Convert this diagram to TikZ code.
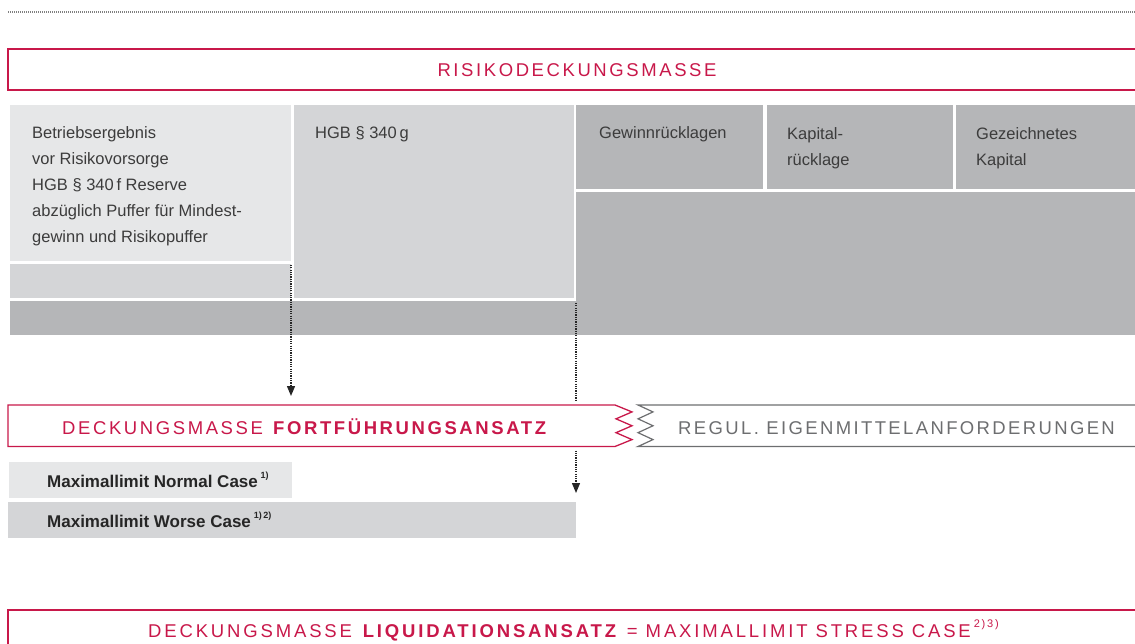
\documentclass[tikz,border=0pt]{standalone}
\usepackage{fontspec}
\setmainfont{Liberation Sans}
\newfontfamily\capsfont[LetterSpace=14]{Liberation Sans}
\newfontfamily\capsregul[LetterSpace=12.8]{Liberation Sans}
\newfontfamily\capsliq[LetterSpace=15.4]{Liberation Sans}
\usetikzlibrary{arrows.meta}
\definecolor{dbred}{RGB}{200,24,74}
\definecolor{glight}{HTML}{E6E7E8}
\definecolor{gmid}{HTML}{D4D5D7}
\definecolor{gdark}{HTML}{B5B6B8}
\definecolor{txt}{HTML}{3C3C3C}
\definecolor{frgray}{HTML}{6D6E70}
\newcommand\mysup[2][9]{\raisebox{0.5em}{\fontsize{#1}{#1}\selectfont #2}}
\begin{document}
\begin{tikzpicture}[x=1pt,y=-1pt,
  blk/.style={anchor=north west, inner sep=0pt, outer sep=0pt},
  body/.style={anchor=north west, inner sep=0pt, align=left, text=txt,
    font=\fontsize{16.5}{26}\selectfont},
  caps/.style={inner sep=0pt, font=\capsfont\fontsize{18.5}{20}\selectfont},
  mlim/.style={inner sep=0pt, text=black!85, font=\bfseries\fontsize{17}{18}\selectfont},
  redline/.style={draw=dbred, line width=1.3pt},
  grayline/.style={draw=frgray, line width=1.2pt},
  dline/.style={draw=black!85, line width=1.3pt, dash pattern=on 1.2pt off 1.1pt},
  darr/.style={dline, -{Triangle[length=10pt,width=8pt]}},
  dotline/.style={draw=black!50, line width=1.2pt, dash pattern=on 1pt off 1pt}
]
\useasboundingbox (0,0) rectangle (1135,644);
\clip (0,0) rectangle (1135,644);

% top dotted rule
\draw[dotline] (8,12) -- (1135,12);

% Risikodeckungsmasse
\node[blk, redline, minimum width=1140pt, minimum height=41pt] (risk) at (8,49) {};
\node[caps, text=dbred, anchor=base] (risktxt) at (577,77) {RISIKODECKUNGSMASSE};

% grey blocks
\node[blk, fill=glight, minimum width=281pt, minimum height=156pt] (b1) at (10,105) {};
\node[blk, fill=gmid, minimum width=281pt, minimum height=34pt] (b1s) at (10,264) {};
\node[blk, fill=gmid, minimum width=280pt, minimum height=193pt] (b2) at (294,105) {};
\node[blk, fill=gdark, minimum width=566pt, minimum height=34pt] (strip) at (10,301) {};
\node[blk, fill=gdark, minimum width=187pt, minimum height=84pt] (gew) at (576,105) {};
\node[blk, fill=gdark, minimum width=186pt, minimum height=84pt] (kap) at (767,105) {};
\node[blk, fill=gdark, minimum width=185pt, minimum height=84pt] (gez) at (956,105) {};
\node[blk, fill=gdark, minimum width=565pt, minimum height=143pt] (low) at (576,192) {};

\node[body] (t1) at (32,126) {Betriebsergebnis\\vor Risikovorsorge\\HGB~§~340\,f Reserve\\abzüglich Puffer für Mindest-\\gewinn und Risikopuffer};
\node[body] (t2) at (315,126) {HGB~§~340\,g};
\node[body] (t3) at (599,126) {Gewinnrücklagen};
\node[body] (t4) at (787,127) {Kapital-\\rücklage};
\node[body] (t5) at (976,127) {Gezeichnetes\\Kapital};

% Fortfuehrungsansatz
\node[blk, minimum width=607pt, minimum height=41.5pt] (fort) at (8,405) {};
\draw[redline] (fort.north east) -- ++(17,6.92) -- ++(-16,6.92) -- ++(16,6.92)
  -- ++(-16,6.92) -- ++(16,6.92) -- (fort.south east) -- (fort.south west)
  -- (fort.north west) -- cycle;
\node[caps, text=dbred, anchor=base west] (forttxt) at (62,434) {DECKUNGSMASSE \textbf{FORTFÜHRUNGSANSATZ}};

% Regul. Eigenmittelanforderungen
\node[blk, minimum width=510pt, minimum height=41.5pt] (regul) at (638,405) {};
\draw[grayline] (regul.north east) -- (regul.north west) -- ++(15,6.92) -- ++(-15,6.92)
  -- ++(15,6.92) -- ++(-15,6.92) -- ++(15,6.92) -- (regul.south west) -- (regul.south east);
\node[caps, font=\capsregul\fontsize{18.5}{20}\selectfont, text=frgray, anchor=base west] (regtxt) at (678,434) {REGUL. EIGENMITTELANFORDERUNGEN};

% Maximallimit boxes
\node[blk, fill=glight, minimum width=283pt, minimum height=36pt] (mn) at (9,462) {};
\node[blk, fill=gmid, minimum width=568pt, minimum height=36pt] (mw) at (8,502) {};
\node[mlim, anchor=base west] (mntxt) at (47,487) {Maximallimit Normal Case\,\mysup{1)}};
\node[mlim, anchor=base west] (mwtxt) at (47,527) {Maximallimit Worse Case\,\mysup{1)\,2)}};

% Liquidationsansatz
\node[blk, redline, minimum width=1140pt, minimum height=60pt] (liq) at (8,610) {};
\node[caps, font=\capsliq\fontsize{18.5}{20}\selectfont, text=dbred, anchor=base west] (liqtxt) at (148,637) {DECKUNGSMASSE \textbf{LIQUIDATIONSANSATZ} = MAXIMALLIMIT STRESS CASE\,{\mysup[11]{2)\,3)}}};

% dotted arrows
\draw[darr, shorten <=1pt, shorten >=9pt] (b1s.north east) -- (b1s.north east |- fort.north);
\draw[dline, shorten <=2pt, shorten >=5pt] (strip.north east) -- (strip.north east |- fort.north);
\draw[darr, shorten <=4pt, shorten >=9pt] (mw.north east |- fort.south) -- (mw.north east);
\end{tikzpicture}
\end{document}
